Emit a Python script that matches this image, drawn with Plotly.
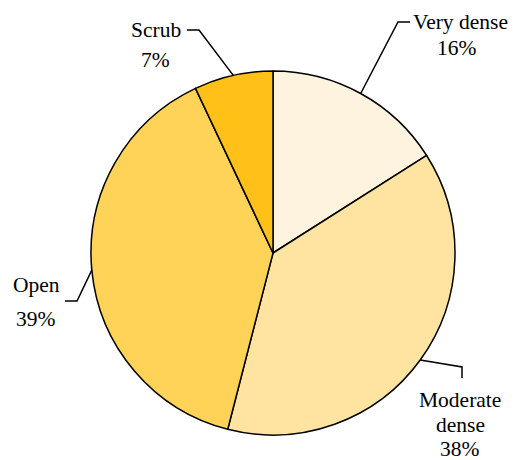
import math
import plotly.graph_objects as go

# ---- data ----
categories = ["Very dense", "Moderate dense", "Open", "Scrub"]
values = [16, 38, 39, 7]
colors = ["#FDF3DF", "#FFE4A1", "#FFD258", "#FFC117"]

W, H = 513, 460
CX, CY, R = 273, 253, 182  # pie geometry in page pixels

def px(x):
    return x / W

def py(y):
    return 1 - y / H

fig = go.Figure(go.Pie(
    labels=categories,
    values=values,
    sort=False,
    direction="clockwise",
    rotation=0,
    marker=dict(colors=colors, line=dict(color="black", width=1.5)),
    textinfo="none",
    hoverinfo="label+percent",
    showlegend=False,
    domain=dict(x=[px(CX - R), px(CX + R)], y=[py(CY + R), py(CY - R)]),
))

total = sum(values)
pcts = [f"{round(v / total * 100)}%" for v in values]

# edge anchor points computed from data
anchors = []
cum = 0
for v in values:
    mid = (cum + v / 2) / total * 2 * math.pi
    anchors.append((CX + R * math.sin(mid), CY - R * math.cos(mid)))
    cum += v

# leader line elbows / ends (layout positions, page pixels)
leaders = {
    "Very dense": [(398, 22), (410, 22)],
    "Moderate dense": [(462, 367), (462, 378)],
    "Open": [(77, 301), (65, 301)],
    "Scrub": [(199, 30), (187, 30)],
}

shapes = []
for cat, (ax, ay) in zip(categories, anchors):
    pts = [(ax, ay)] + leaders[cat]
    path = "M " + " L ".join(f"{px(x)},{py(y)}" for x, y in pts)
    shapes.append(dict(type="path", path=path, xref="paper", yref="paper",
                       line=dict(color="black", width=1.5)))

font = dict(family="Liberation Serif", size=21.5, color="black")

# text lines: (text, x, y, xanchor)
texts = [
    (categories[0], 411, 22, "left"),
    (pcts[0], 457, 48, "center"),
    ("Moderate", 460, 400, "center"),
    ("dense", 460, 425, "center"),
    (pcts[1], 460, 449, "center"),
    (categories[2], 36, 285, "center"),
    (pcts[2], 36, 319, "center"),
    (categories[3], 183, 30, "right"),
    (pcts[3], 155, 60, "center"),
]

annotations = [
    dict(text=t, x=px(x), y=py(y), xref="paper", yref="paper",
         xanchor=xa, yanchor="middle", showarrow=False, font=font)
    for t, x, y, xa in texts
]

fig.update_layout(
    width=W, height=H,
    margin=dict(l=0, r=0, t=0, b=0),
    paper_bgcolor="white",
    plot_bgcolor="white",
    shapes=shapes,
    annotations=annotations,
)

fig.write_html(
    "out.html",
    config={"displayModeBar": False},
    post_script=(
        "document.body.style.margin='0';"
        "document.body.style.overflow='hidden';"
        "document.documentElement.style.overflow='hidden';"
    ),
)
